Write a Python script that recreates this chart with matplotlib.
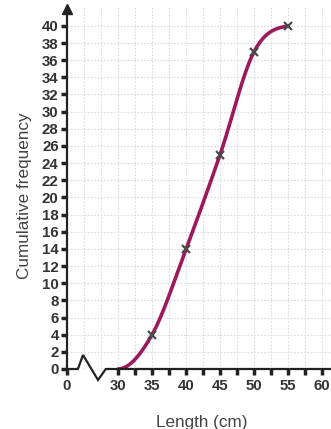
import numpy as np
import matplotlib
matplotlib.use("Agg")
import matplotlib.pyplot as plt

# data
length_cm = [30, 35, 40, 45, 50, 55]
cum_freq = [0, 4, 14, 25, 37, 40]
x_ticks = [30, 35, 40, 45, 50, 55, 60]
y_ticks = list(range(0, 41, 2))

plt.rcParams['font.family'] = ['Liberation Sans', 'DejaVu Sans']

# axis break: the "0" sits 7.5 units left of 30
x0 = 22.5
xmax = 61.3
ymax = 42.2


def hermite_curve(xs, ys, n=60):
    xs = np.asarray(xs, float)
    ys = np.asarray(ys, float)
    m = np.zeros_like(ys)
    m[1:-1] = (ys[2:] - ys[:-2]) / (xs[2:] - xs[:-2])
    m[0] = 0.0
    m[-1] = 0.15
    out_x, out_y = [], []
    for i in range(len(xs) - 1):
        h = xs[i + 1] - xs[i]
        t = np.linspace(0, 1, n)
        h00 = 2 * t**3 - 3 * t**2 + 1
        h10 = t**3 - 2 * t**2 + t
        h01 = -2 * t**3 + 3 * t**2
        h11 = t**3 - t**2
        out_x.append(xs[i] + t * h)
        out_y.append(h00 * ys[i] + h10 * h * m[i] + h01 * ys[i + 1] + h11 * h * m[i + 1])
    return np.concatenate(out_x), np.concatenate(out_y)


fig = plt.figure(figsize=(3.31, 4.29), dpi=100)
ax = fig.add_axes([67 / 331, 60 / 429, 264 / 331, 362 / 429])
ax.set_xlim(x0, xmax)
ax.set_ylim(0, ymax)

# grid
grid_kw = dict(color='#dadae6', lw=0.8, ls=(0, (1.5, 1.5)), zorder=0)
for gx in np.arange(x0 + 2.5, xmax, 2.5):
    ax.axvline(gx, **grid_kw)
for gy in y_ticks[1:]:
    ax.axhline(gy, **grid_kw)

# curve and points
cx, cy = hermite_curve(length_cm, cum_freq)
ax.plot(cx, cy, color='#9c1a5b', lw=2.6, solid_capstyle='round', zorder=3)
ax.plot(length_cm[1:], cum_freq[1:], ls='none', marker='x', ms=6, mew=1.6,
        color='#4a4a4a', zorder=4)

# spines
for s in ['top', 'right', 'bottom']:
    ax.spines[s].set_visible(False)
ax.spines['left'].set_linewidth(1.6)
ax.spines['left'].set_color('#222222')

# broken x axis line with zigzag
brk = [(x0, 0), (24.1, 0), (24.85, 1.63), (27.06, -1.28), (28.2, 0), (xmax, 0)]
ax.plot([p[0] for p in brk], [p[1] for p in brk], color='#222222', lw=1.6,
        clip_on=False, zorder=5, solid_joinstyle='miter')

# arrow on y axis
ax.plot([x0], [ymax - 0.2], marker='^', ms=7, color='#222222', clip_on=False, zorder=6)

# ticks
ax.set_yticks(y_ticks)
ax.set_yticklabels([str(v) for v in y_ticks], fontweight='bold', fontsize=10.8,
                   color='#333333')
ax.set_xticks([x0] + x_ticks)
ax.set_xticklabels(['0'] + [str(v) for v in x_ticks], fontweight='bold',
                   fontsize=10.8, color='#333333')
ax.set_xticks(np.arange(32.5, 60, 5), minor=True)
ax.tick_params(axis='both', which='both', direction='out', length=4, width=2.5,
               color='#222222', pad=2)
ax.tick_params(axis='x', which='major', pad=3)

fig.text(24 / 331, 1 - 196 / 429, 'Cumulative frequency', rotation=90,
         ha='center', va='center', fontsize=12.3, color='#444444')
fig.text(202 / 331, 14 / 429, 'Length (cm)', ha='center', va='top',
         fontsize=12.3, color='#444444')

fig.savefig('out.png', dpi=100)
